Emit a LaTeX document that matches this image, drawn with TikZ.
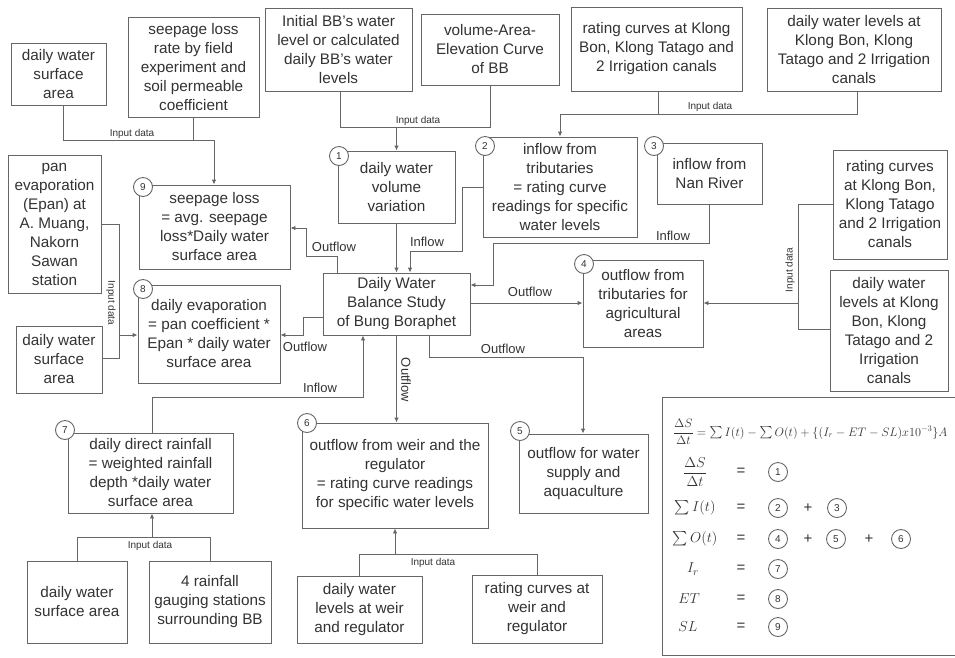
\documentclass[tikz,border=0pt]{standalone}
\usepackage{amsmath}
\usepackage{graphicx}
\usepackage{fontspec}
\setmainfont{Liberation Sans}
\usetikzlibrary{arrows.meta}
\begin{document}
\begin{tikzpicture}[x=1pt,y=-1pt,
  line width=0.9pt,
  every node/.style={text=black!80},
  box/.style={draw=black!60, fill=white, align=center, inner sep=1pt, font=\fontsize{15.3}{19}\selectfont},
  lbl/.style={font=\fontsize{13}{14}\selectfont, inner sep=1pt},
  inp/.style={font=\fontsize{10}{11}\selectfont, inner sep=1pt},
  conn/.style={draw=black!60},
  arr/.style={draw=black!60,-{Latex[length=5pt,width=4.5pt]}},
  num/.style={circle, draw=black!60, fill=white, inner sep=0pt, minimum size=19pt, font=\fontsize{10}{10}\selectfont},
  eqt/.style={font=\fontsize{15}{17}\selectfont, inner sep=1pt},
  eqtop/.style={font=\fontsize{14}{16}\selectfont, inner sep=0pt},
]
\useasboundingbox (0,0) rectangle (955,657);

% ---------- boxes ----------
\node[box, minimum width=95pt, minimum height=62pt] (A) at (58.5,74) {daily water\\surface\\area};
\node[box, minimum width=131pt, minimum height=100pt] (B) at (193.5,67) {seepage loss\\rate by field\\experiment and\\soil permeable\\coefficient};
\node[box, minimum width=147pt, minimum height=83pt] (C) at (338.5,49.5) {Initial BB's water\\level or calculated\\daily BB's water\\levels};
\node[box, minimum width=138pt, minimum height=71pt] (D) at (490,49.5) {volume-Area-\\Elevation Curve\\of BB};
\node[box, minimum width=171pt, minimum height=84pt] (E) at (656.5,49) {rating curves at Klong\\Bon, Klong Tatago and\\2 Irrigation canals};
\node[box, minimum width=174pt, minimum height=83pt] (F) at (854,49.5) {daily water levels at\\Klong Bon, Klong\\Tatago and 2 Irrigation\\canals};
\node[box, minimum width=93pt, minimum height=138pt] (M) at (54.5,224) {pan\\evaporation\\(Epan) at\\A. Muang,\\Nakorn\\Sawan\\station};
\node[box, minimum width=86pt, minimum height=67pt] (N) at (59,359.5) {daily water\\surface\\area};
\node[box, minimum width=151pt, minimum height=84pt] (B9) at (214.5,227) {seepage loss\\= avg. seepage\\loss*Daily water\\surface area};
\node[box, minimum width=142pt, minimum height=98pt] (B8) at (209,334) {daily evaporation\\= pan coefficient *\\Epan * daily water\\surface area};
\node[box, minimum width=117pt, minimum height=72pt] (B1) at (396.5,187) {daily water\\volume\\variation};
\node[box, minimum width=154pt, minimum height=100pt] (B2) at (560,187) {inflow from\\tributaries\\= rating curve\\readings for specific\\water levels};
\node[box, minimum width=105pt, minimum height=61pt] (B3) at (709.5,173.5) {inflow from\\Nan River};
\node[box, minimum width=147pt, minimum height=62pt] (DW) at (396.5,304) {Daily Water\\Balance Study\\of Bung Boraphet};
\node[box, minimum width=120pt, minimum height=87pt] (B4) at (643,303.5) {outflow from\\tributaries for\\agricultural\\areas};
\node[box, minimum width=114pt, minimum height=109pt] (G) at (890,204.5) {rating curves\\at Klong Bon,\\Klong Tatago\\and 2 Irrigation\\canals};
\node[box, minimum width=118pt, minimum height=121pt] (H) at (889,330.5) {daily water\\levels at Klong\\Bon, Klong\\Tatago and 2\\Irrigation\\canals};
\node[box, minimum width=129pt, minimum height=79pt] (B5) at (583.5,473.5) {outflow for water\\supply and\\aquaculture};
\node[box, minimum width=186pt, minimum height=105pt] (B6) at (395,475.5) {outflow from weir and the\\regulator\\= rating curve readings\\for specific water levels};
\node[box, minimum width=165pt, minimum height=80pt] (B7) at (150.5,473) {daily direct rainfall\\= weighted rainfall\\depth *daily water\\surface area};
\node[box, minimum width=100pt, minimum height=82pt] (I) at (77,602) {daily water\\surface area};
\node[box, minimum width=122pt, minimum height=82pt] (J) at (210,602) {4 rainfall\\gauging stations\\surrounding BB};
\node[box, minimum width=125pt, minimum height=67pt] (K) at (359.5,609.5) {daily water\\levels at weir\\and regulator};
\node[box, minimum width=130pt, minimum height=68pt] (L) at (537,609) {rating curves at\\weir and\\regulator};

% ---------- connectors ----------
% A, B -> 9
\coordinate (j1) at (214,140);
\draw[conn] (A.south -| 63,0) |- (j1);
\draw[conn] (B.south) -- (B.south |- j1);
\draw[arr] (j1) -- (B9.north -| j1);
\node[inp] at (132,134) {Input data};
% C, D -> 1
\coordinate (j2) at (396.5,127);
\draw[conn] (C.south -| 340,0) |- (D.south |- j2) -- (D.south);
\draw[arr] (j2) -- (B1.north);
\node[inp] at (418,121) {Input data};
% E, F -> 2
\coordinate (j3) at (560,114);
\draw[conn] (E.south -| 658,0) -- (658,114);
\draw[arr] (F.south -| 857,0) |- (j3) -- (B2.north);
\node[inp] at (710,107) {Input data};
% 1 -> DW
\draw[arr] (B1.south) -- (DW.north);
% 2 -> DW
\draw[arr] (B2.west |- 0,187) -| (462,251) -| (DW.north -| 410,0);
\node[lbl] at (427,242) {Inflow};
% 3 -> DW
\draw[arr] (B3.south) |- (493,243) |- (DW.east |- 0,285);
\node[lbl] at (673,236) {Inflow};
% DW -> 9
\draw[arr] (DW.north -| 337,0) |- (306,256) |- (B9.east |- 0,228);
\node[lbl] at (334,247) {Outflow};
% DW -> 8
\draw[arr] (DW.west |- 0,317) -| (303,335) -- (B8.east |- 0,335);
\node[lbl] at (305,347) {Outflow};
% DW -> 4
\draw[arr] (DW.east |- 0,303) -- (B4.west |- 0,303);
\node[lbl] at (530,292) {Outflow};
% DW -> 5
\draw[arr] (DW.south -| 429,0) |- (583,357) -- (B5.north -| 583,0);
\node[lbl] at (503,349) {Outflow};
% DW -> 6
\draw[arr] (DW.south) -- (B6.north -| DW.south);
\node[lbl, rotate=-90] at (406,380) {Outflow};
% 7 -> DW
\draw[arr] (B7.north -| 152,0) |- (363,397) -- (DW.south -| 363,0);
\node[lbl] at (320,388) {Inflow};
% I, J -> 7
\coordinate (j4) at (152,537);
\draw[conn] (I.north) |- (J.north |- j4) -- (J.north);
\draw[arr] (j4) -- (B7.south -| j4);
\node[inp] at (150,546) {Input data};
% K, L -> 6
\coordinate (j5) at (395,554);
\draw[conn] (K.north) |- (L.north |- j5) -- (L.north);
\draw[arr] (j5) -- (B6.south);
\node[inp] at (433,563) {Input data};
% M, N -> 8
\coordinate (j6) at (119,335);
\draw[conn] (M.east) -| (119,358) -- (N.east |- 0,358);
\draw[arr] (j6) -- (B8.west |- j6);
\node[inp, rotate=-90] at (111,303) {Input data};
% G, H -> 4
\coordinate (j7) at (798,303);
\draw[conn] (G.west) -| (798,329) -- (H.west |- 0,329);
\draw[arr] (j7) -- (B4.east |- j7);
\node[inp, rotate=90] at (790,270) {Input data};

% ---------- numbered circles ----------
\node[num] (c1) at (339,156) {1};
\node[num] (c2) at (485,146) {2};
\node[num] (c3) at (654,146) {3};
\node[num] (c4) at (584,264) {4};
\node[num] (c5) at (520,431) {5};
\node[num] (c6) at (307,423) {6};
\node[num] (c7) at (65,430) {7};
\node[num] (c8) at (143,289) {8};
\node[num] (c9) at (143,187) {9};

% ---------- equation box ----------
\draw[black!60] (960,397) -- (662,397) -- (662,655) -- (960,655);
\node[eqtop, anchor=west] (eq) at (673,432) {\resizebox{274pt}{!}{$\dfrac{\Delta S}{\Delta t}=\sum I(t)-\sum O(t)+\{(I_r-ET-SL)x10^{-3}\}A$}};
\node[eqt] (r1) at (695,472) {$\dfrac{\Delta S}{\Delta t}$};
\node[eqt] (r2) at (695,508) {$\sum I(t)$};
\node[eqt] (r3) at (695,539) {$\sum O(t)$};
\node[eqt] (r4) at (693,569) {$I_r$};
\node[eqt] (r5) at (689,599) {$ET$};
\node[eqt] (r6) at (688,627) {$SL$};
\foreach \yy in {472,508,539,569,599,627} \node[eqt] at (741,\yy) {=};
\node[num] (e1) at (778,472) {1};
\node[num] (e2) at (778,508) {2};
\node[eqt] at (808,508) {+};
\node[num] (e3) at (837,508) {3};
\node[num] (e4) at (778,539) {4};
\node[eqt] at (808,539) {+};
\node[num] (e5) at (836,539) {5};
\node[eqt] at (869,539) {+};
\node[num] (e6) at (901,539) {6};
\node[num] (e7) at (778,569) {7};
\node[num] (e8) at (778,599) {8};
\node[num] (e9) at (778,627) {9};
\end{tikzpicture}
\end{document}
